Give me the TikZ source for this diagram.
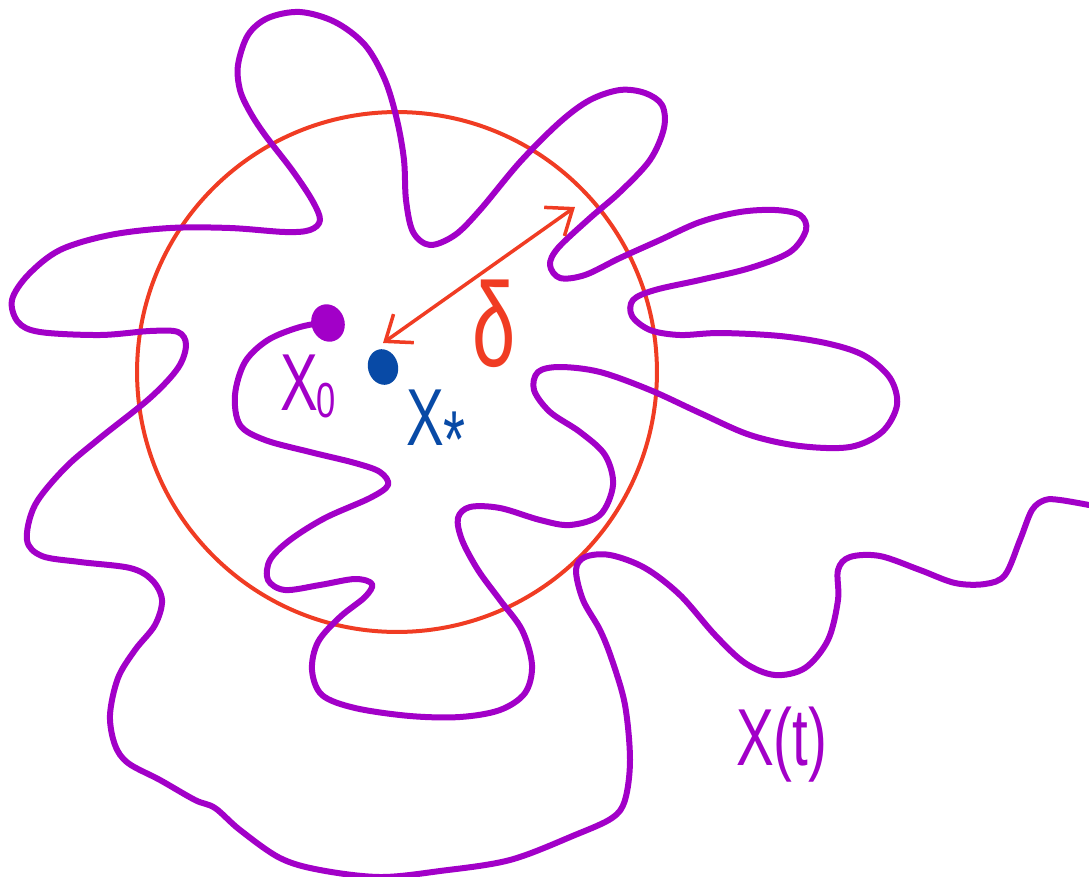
\documentclass[tikz,border=0pt]{standalone}
\usepackage{fontspec}
\setmainfont{Liberation Sans}
\usetikzlibrary{arrows.meta,shapes.geometric}
\definecolor{pur}{RGB}{162,0,200}
\definecolor{redc}{RGB}{240,60,35}
\definecolor{blu}{RGB}{8,74,166}
\begin{document}
\begin{tikzpicture}[x=0.02cm,y=-0.02cm,
  walk/.style={pur, line width=1.2mm, line cap=round, line join=round},
  ring/.style={redc, line width=0.8mm},
  dist/.style={redc, line width=0.7mm, line cap=round,
    {Straight Barb[length=4.5mm,width=7mm,line width=0.7mm]}-{Straight Barb[length=4.5mm,width=7mm,line width=0.7mm]}},
  lab/.style={inner sep=0pt, font=\fontsize{46}{50}\selectfont, xscale=0.7}]
\useasboundingbox (0,0) rectangle (1089,876);
% circle
\draw[ring] (397,372) circle [radius=5.2cm];
% random walk
\node[ellipse, fill=pur, minimum width=0.66cm, minimum height=0.76cm, inner sep=0pt, rotate=20] (x0) at (328,323) {};
\draw[walk] plot[smooth, tension=0.55] coordinates {
(328,322) (300,327) (268,340) (245,362) (235,395) (240,425) (265,440) (310,452) (355,463) (380,472) (388,485) (370,498) (325,518) (290,540) (270,560) (268,580) (285,590) (320,585) (355,579) (372,584) (365,597) (340,617) (318,642) (312,670) (322,695) (355,708) (410,716) (460,717) (500,710) (525,693) (532,665) (522,630) (500,600) (478,570) (462,540) (458,518) (470,507) (500,508) (540,520) (570,525) (600,515) (613,485) (605,455) (580,432) (550,412) (534,390) (538,372) (560,367) (600,372) (650,390) (700,413) (750,435) (800,446) (850,447) (882,432) (897,405) (890,378) (865,356) (830,344) (780,336) (720,333) (680,335) (650,330) (632,316) (633,300) (655,290) (700,280) (750,268) (790,252) (806,230) (800,215) (775,210) (740,212) (700,222) (660,240) (620,258) (585,275) (560,278) (550,265) (558,248) (590,218) (620,192) (650,160) (664,128) (662,105) (645,93) (620,90) (590,100) (560,122) (520,162) (480,210) (455,235) (430,245) (413,232) (406,200) (404,160) (397,120) (385,80) (365,45) (335,22) (300,12) (268,18) (248,35) (238,65) (240,90) (250,112) (265,135) (292,170) (312,200) (320,220) (310,230) (285,232) (230,228) (170,228) (110,235) (60,250) (28,275) (12,300) (18,322) (40,332) (100,335) (150,331) (178,332) (186,345) (178,368) (150,398) (100,438) (65,468) (35,505) (27,540) (42,556) (80,562) (130,568) (152,580) (162,600) (155,625) (135,650) (118,678) (110,715) (115,745) (128,763) (160,780) (195,800) (215,808) (240,830) (280,858) (320,870) (380,877) (440,871) (510,860) (575,835) (612,818) (625,800) (630,760) (625,705) (612,660) (600,630) (583,600) (576,570) (585,557) (610,555) (645,568) (680,595) (715,635) (745,663) (775,675) (805,668) (828,640) (838,600) (838,570) (850,557) (880,556) (920,570) (955,583) (985,584) (1005,575) (1020,540) (1032,510) (1045,500) (1060,500) (1089,505)};
% target point
\node[ellipse, fill=blu, minimum width=0.6cm, minimum height=0.72cm, inner sep=0pt, rotate=15] (xs) at (383,367) {};
% distance arrow
\coordinate (aA) at (383,343);
\coordinate (aB) at (575,207);
\draw[dist] (aA) -- (aB);
% labels
\node[lab, text=pur, anchor=base west] (l0) at (280,410) {X\kern-1pt\raisebox{-4pt}{\fontsize{28}{30}\selectfont 0}};
\node[lab, text=blu, anchor=base west] (ls) at (406,445) {X\raisebox{-13pt}{\fontsize{46}{48}\selectfont *}};
\node[lab, text=pur, anchor=base west] (lt) at (736,765) {X(t)};
\node[inner sep=0pt, text=redc, font=\fontsize{68}{70}\selectfont, xscale=0.65, anchor=base] (ld) at (494,366) {δ};
\end{tikzpicture}
\end{document}
